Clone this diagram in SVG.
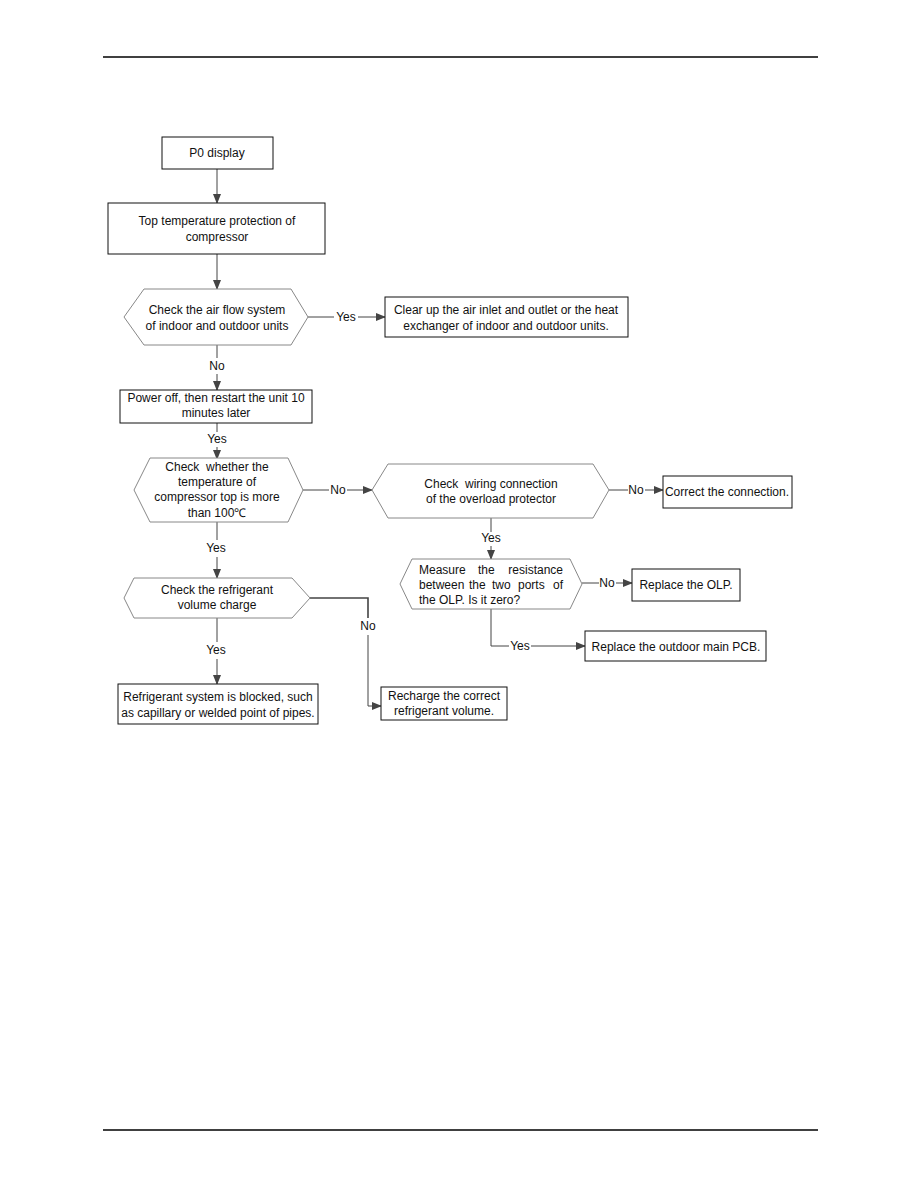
<svg xmlns="http://www.w3.org/2000/svg" width="918" height="1188" viewBox="0 0 918 1188">
<defs>
<style>
text{font-family:"Liberation Sans",Arial,sans-serif;font-size:12px;fill:#111;white-space:pre;}
.c{text-anchor:middle;}
.e{text-anchor:end;}
.box{fill:#fff;stroke:#111;stroke-width:1;}
.hex{fill:#fff;stroke:#888;stroke-width:1;}
.ln{fill:none;stroke:#444;stroke-width:1;}
.rule{stroke:#000;stroke-width:1.5;}
</style>
<marker id="ah" markerWidth="10" markerHeight="8" refX="9" refY="4" orient="auto" markerUnits="userSpaceOnUse">
<path d="M0,0 L10,4 L0,8 Z" fill="#444"/>
</marker>
</defs>
<rect width="918" height="1188" fill="#fff"/>
<line class="rule" x1="103" y1="57" x2="818" y2="57"/>
<line class="rule" x1="103" y1="1130" x2="818" y2="1130"/>

<g id="connectors">
<line class="ln" x1="217" y1="169" x2="217" y2="203" marker-end="url(#ah)"/>
<line class="ln" x1="217" y1="254" x2="217" y2="289" marker-end="url(#ah)"/>
<line class="ln" x1="308" y1="317" x2="334" y2="317"/>
<text x="346" y="321" class="c">Yes</text>
<line class="ln" x1="358" y1="317" x2="385" y2="317" marker-end="url(#ah)"/>
<line class="ln" x1="217" y1="345" x2="217" y2="358"/>
<text x="217" y="370" class="c">No</text>
<line class="ln" x1="217" y1="374" x2="217" y2="390" marker-end="url(#ah)"/>
<line class="ln" x1="217" y1="423" x2="217" y2="432"/>
<text x="217" y="443" class="c">Yes</text>
<line class="ln" x1="217" y1="447" x2="217" y2="459" marker-end="url(#ah)"/>
<line class="ln" x1="303" y1="490" x2="329" y2="490"/>
<text x="338" y="494" class="c">No</text>
<line class="ln" x1="347" y1="490" x2="372" y2="490" marker-end="url(#ah)"/>
<line class="ln" x1="609" y1="490" x2="628" y2="490"/>
<text x="636" y="494" class="c">No</text>
<line class="ln" x1="645" y1="490" x2="663" y2="490" marker-end="url(#ah)"/>
<line class="ln" x1="491" y1="518" x2="491" y2="532"/>
<text x="491" y="542" class="c">Yes</text>
<line class="ln" x1="491" y1="546" x2="491" y2="559" marker-end="url(#ah)"/>
<line class="ln" x1="582" y1="583" x2="599" y2="583"/>
<text x="607" y="587" class="c">No</text>
<line class="ln" x1="616" y1="583" x2="632" y2="583" marker-end="url(#ah)"/>
<polyline class="ln" points="491,609 491,646 509,646"/>
<text x="520" y="650" class="c">Yes</text>
<line class="ln" x1="531" y1="646" x2="585" y2="646" marker-end="url(#ah)"/>
<line class="ln" x1="217" y1="522" x2="217" y2="540"/>
<text x="216" y="552" class="c">Yes</text>
<line class="ln" x1="217" y1="557" x2="217" y2="578" marker-end="url(#ah)"/>
<line class="ln" x1="217" y1="618" x2="217" y2="642"/>
<text x="216" y="654" class="c">Yes</text>
<line class="ln" x1="217" y1="659" x2="217" y2="684" marker-end="url(#ah)"/>
<polyline class="ln" points="310,598 368,598 368,618" style="stroke-width:1.6"/>
<text x="368" y="630" class="c">No</text>
<polyline class="ln" points="368,635 368,706 381,706" marker-end="url(#ah)"/>
</g>

<g id="n-p0">
<rect class="box" x="162" y="137" width="111" height="32"/>
<text x="217" y="157" class="c">P0 display</text>
</g>
<g id="n-top">
<rect class="box" x="108" y="203" width="217" height="51"/>
<text x="217" y="225" class="c">Top temperature protection of</text>
<text x="217" y="241" class="c">compressor</text>
</g>
<g id="n-airflow">
<polygon class="hex" points="124,317 144,289 291,289 308,317 291,345 144,345"/>
<text x="217" y="314" class="c">Check the air flow system</text>
<text x="217" y="330" class="c">of indoor and outdoor units</text>
</g>
<g id="n-clear">
<rect class="box" x="385" y="297" width="243" height="40"/>
<text x="506" y="314" class="c">Clear up the air inlet and outlet or the heat</text>
<text x="506" y="330" class="c">exchanger of indoor and outdoor units.</text>
</g>
<g id="n-power">
<rect class="box" x="120" y="390" width="192" height="33"/>
<text x="216" y="402" class="c">Power off, then restart the unit 10</text>
<text x="216" y="417" class="c">minutes later</text>
</g>
<g id="n-temp">
<polygon class="hex" points="134,490 150,458 288,458 303,490 288,522 150,522"/>
<text x="217" y="471" class="c" xml:space="preserve">Check  whether the</text>
<text x="217" y="486" class="c">temperature of</text>
<text x="217" y="501" class="c">compressor top is more</text>
<text x="217" y="517" class="c">than 100℃</text>
</g>
<g id="n-wiring">
<polygon class="hex" points="372,490 388,464 593,464 609,490 593,518 388,518"/>
<text x="491" y="488" class="c" xml:space="preserve">Check  wiring connection</text>
<text x="491" y="503" class="c">of the overload protector</text>
</g>
<g id="n-correct">
<rect class="box" x="663" y="476" width="129" height="32"/>
<text x="727" y="496" class="c">Correct the connection.</text>
</g>
<g id="n-measure">
<polygon class="hex" points="400,584 412,559 570,559 582,584 570,609 412,609"/>
<text x="419" y="574">Measure</text>
<text x="478" y="574">the</text>
<text x="563" y="574" class="e">resistance</text>
<text x="419" y="589">between</text>
<text x="469" y="589">the</text>
<text x="492" y="589">two</text>
<text x="518" y="589">ports</text>
<text x="563" y="589" class="e">of</text>
<text x="419" y="604">the OLP. Is it zero?</text>
</g>
<g id="n-olp">
<rect class="box" x="632" y="569" width="108" height="32"/>
<text x="686" y="589" class="c">Replace the OLP.</text>
</g>
<g id="n-pcb">
<rect class="box" x="585" y="631" width="181" height="30"/>
<text x="676" y="651" class="c">Replace the outdoor main PCB.</text>
</g>
<g id="n-refrig">
<polygon class="hex" points="124,598 134,578 292,578 310,598 292,618 134,618"/>
<text x="217" y="594" class="c">Check the refrigerant</text>
<text x="217" y="609" class="c">volume charge</text>
</g>
<g id="n-blocked">
<rect class="box" x="118" y="684" width="200" height="40"/>
<text x="218" y="701" class="c">Refrigerant system is blocked, such</text>
<text x="218" y="717" class="c">as capillary or welded point of pipes.</text>
</g>
<g id="n-recharge">
<rect class="box" x="381" y="687" width="126" height="33"/>
<text x="444" y="700" class="c">Recharge the correct</text>
<text x="444" y="715" class="c">refrigerant volume.</text>
</g>
</svg>
